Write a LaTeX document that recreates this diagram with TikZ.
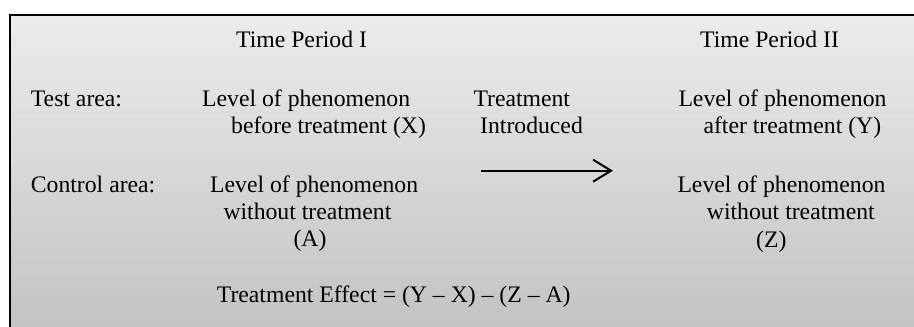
\documentclass[tikz,border=0pt]{standalone}
\usepackage{fontspec}
\setmainfont{Liberation Serif}
\usepackage{tikz}
\usetikzlibrary{arrows.meta}
\tikzstyle{panel} = [draw=none, rectangle, top color=gray!15, bottom color=gray!50,
    minimum width=960pt, minimum height=340pt, anchor=north west, inner sep=0pt]
\tikzstyle{rowtext} = [anchor=base west, inner sep=0pt, font=\fontsize{23.7pt}{27pt}\selectfont]
\tikzstyle{edge} = [line width=2pt]
\tikzstyle{treatarrow} = [line width=2pt, -{Straight Barb[length=18pt,width=22pt]}]

\begin{document}
\begin{tikzpicture}[x=1pt, y=-1pt]
                \useasboundingbox (0,0) rectangle (914,327);
                \clip (0,0) rectangle (914,327);
                \node [panel] (box1) at (9.5,15) {};
                \draw [edge] (box1.south west) -- (box1.north west) -- (box1.north east);
                \node [rowtext] (tp1) at (236,47.5) {Time Period I};
                \node [rowtext] (tp2) at (700,47.5) {Time Period II};
                \node [rowtext] (testlbl) at (30.7,106) {Test area:};
                \node [rowtext] (testlvl) at (202,106) {Level of phenomenon};
                \node [rowtext] (testbefore) at (231,133) {before treatment (X)};
                \node [rowtext] (treat) at (473.3,106) {Treatment};
                \node [rowtext] (introduced) at (480,133) {Introduced};
                \node [rowtext] (testlvl2) at (678.3,106) {Level of phenomenon};
                \node [rowtext] (testafter) at (703.3,133) {after treatment (Y)};
                \node [rowtext] (ctrllbl) at (30.7,192) {Control area:};
                \node [rowtext] (ctrllvl) at (210,192) {Level of phenomenon};
                \node [rowtext] (ctrlwithout) at (223.3,219) {without treatment};
                \node [rowtext] (ctrlA) at (293.3,246.5) {(A)};
                \node [rowtext] (ctrllvl2) at (677.3,192) {Level of phenomenon};
                \node [rowtext] (ctrlwithout2) at (706.7,219) {without treatment};
                \node [rowtext] (ctrlZ) at (756,247) {(Z)};
                \node [rowtext] (effect) at (216.7,302) {Treatment Effect = (Y – X) – (Z – A)};
                \coordinate (arrowstart) at (480.7,170.7);
                \coordinate (arrowend) at (613,170.7);
                \draw [treatarrow] (arrowstart) -- (arrowend);
            \end{tikzpicture}
\end{document}
